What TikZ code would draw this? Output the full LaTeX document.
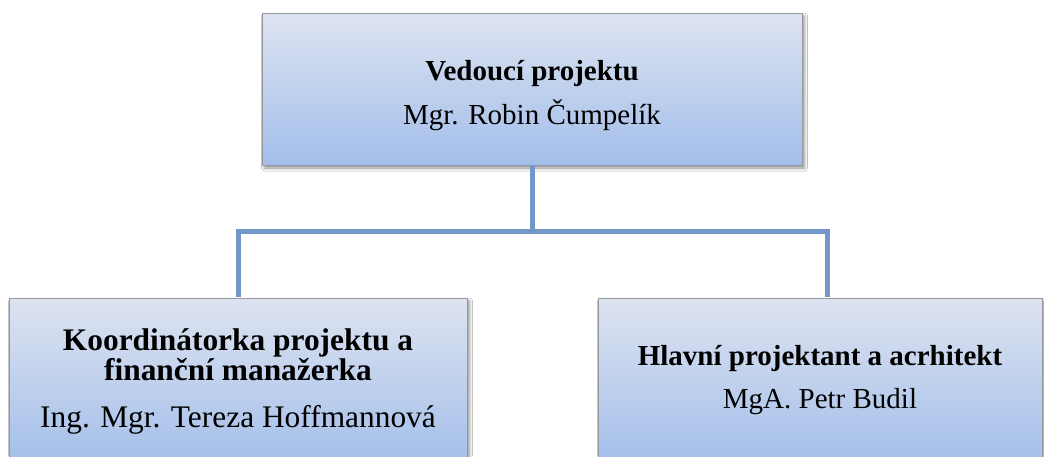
\documentclass[tikz,border=0pt]{standalone}
\usepackage{fontspec}
\setmainfont{Liberation Serif}
\usetikzlibrary{shadows.blur}
\definecolor{boxtop}{RGB}{221,227,240}
\definecolor{boxbot}{RGB}{162,190,234}
\definecolor{boxline}{RGB}{150,152,158}
\definecolor{linkblue}{RGB}{116,151,201}
\tikzset{
  orgbox/.style={rectangle, draw=boxline, line width=0.9pt,
    top color=boxtop, bottom color=boxbot, inner sep=0pt,
    blur shadow={shadow xshift=2.5pt, shadow yshift=-3pt,
      shadow blur radius=3pt, shadow blur steps=6, shadow opacity=45}},
  link/.style={draw=linkblue, line width=5pt},
  lbl/.style={align=center, inner sep=0pt, text=black}
}
\begin{document}
\begin{tikzpicture}[x=1pt,y=-1pt]
  \useasboundingbox (0,0) rectangle (1044,456);
  \fill[white] (0,0) rectangle (1044,456);

  % boxes
  \node[orgbox, minimum width=540pt, minimum height=152pt] (lead) at (532,89) {};
  \node[orgbox, minimum width=458pt, minimum height=170pt] (coord) at (238,383) {};
  \node[orgbox, minimum width=444pt, minimum height=170pt] (arch) at (820,383) {};

  % connectors
  \coordinate (fork) at (532,231.5);
  \draw[link] (lead.south) -- (fork);
  \draw[link] (238,231.5) -- (827,231.5);
  \draw[link] (238,229) -- (238,297);
  \draw[link] (827,229) -- (827,297);

  % texts
  \node[lbl, font=\fontsize{29}{44}\selectfont] (leadtxt) at (532,96)
    {\textbf{Vedoucí projektu}\\Mgr. Robin Čumpelík};
  \node[lbl, font=\fontsize{31.4}{31}\selectfont, anchor=base] (coordhead) at (238,350)
    {\textbf{Koordinátorka projektu a}};
  \node[lbl, font=\fontsize{31.4}{31}\selectfont, anchor=base] (coordhead2) at (238,380)
    {\textbf{finanční manažerka}};
  \node[lbl, font=\fontsize{31.4}{31}\selectfont, anchor=base] (coordname) at (238,427)
    {Ing. Mgr. Tereza Hoffmannová};
  \node[lbl, font=\fontsize{29}{29}\selectfont, anchor=base] (archhead) at (820,365)
    {\textbf{Hlavní projektant a acrhitekt}};
  \node[lbl, font=\fontsize{29}{29}\selectfont, anchor=base] (archname) at (820,408)
    {MgA. Petr Budil};
\end{tikzpicture}
\end{document}
